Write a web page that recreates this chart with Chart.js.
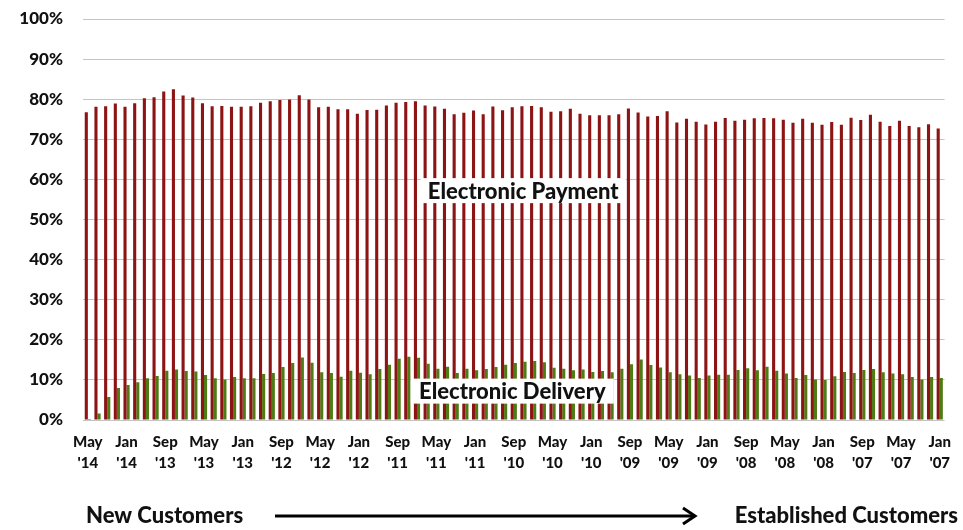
<!DOCTYPE html>
<html>
<head>
<meta charset="utf-8">
<script src="https://cdn.jsdelivr.net/npm/chart.js@4.4.1/dist/chart.umd.min.js"></script>
<style>
  html, body { margin: 0; padding: 0; background: #fff; }
  #wrap { width: 963px; height: 530px; position: relative; }
</style>
</head>
<body>
<div id="wrap"><canvas id="payChart"></canvas></div>
<script>
// tick labels shown every 4th month, newest first
var tickLabels = ["May '14","Jan '14","Sep '13","May '13","Jan '13","Sep '12","May '12","Jan '12",
    "Sep '11","May '11","Jan '11","Sep '10","May '10","Jan '10","Sep '09","May '09","Jan '09",
    "Sep '08","May '08","Jan '08","Sep '07","May '07","Jan '07"];
var monthNames = ["Jan","Feb","Mar","Apr","May","Jun","Jul","Aug","Sep","Oct","Nov","Dec"];

// % of customers paying electronically, May 2014 back to Jan 2007
var paymentPct = [76.75,78.1,78.25,78.9,78.1,79.0,80.25,80.5,81.9,82.5,80.9,80.4,79.0,78.25,78.3,
    78.1,78.1,78.25,79.1,79.5,79.8,79.9,81.0,79.9,78.0,78.1,77.5,77.5,76.4,
    77.3,77.4,78.4,79.1,79.3,79.5,78.4,78.2,77.6,76.25,76.6,77.2,76.25,78.2,77.25,78.0,
    78.25,78.3,78.0,76.9,77.0,77.6,76.4,76.0,76.0,76.0,76.25,77.7,76.7,
    75.7,75.8,77.0,74.2,75.1,74.4,73.7,74.4,75.3,74.6,74.9,75.25,75.3,75.25,74.9,74.1,
    75.1,74.1,73.6,74.3,73.6,75.4,74.8,76.1,74.4,73.3,74.6,73.3,73.0,73.75,72.7];

// % of customers on electronic delivery, same months
var deliveryPct = [0.25,1.6,5.75,8.0,8.7,9.4,10.4,11.0,12.3,12.6,12.2,12.1,11.2,10.4,10.1,
    10.75,10.4,10.4,11.5,11.75,13.2,14.2,15.6,14.25,11.9,11.7,10.8,12.3,
    11.8,11.4,12.7,13.8,15.3,15.8,15.5,14.0,12.8,13.25,11.75,12.8,12.4,12.7,13.2,13.8,
    14.2,14.5,14.7,14.4,13.0,12.75,12.4,12.6,12.0,12.2,11.9,12.75,13.9,15.1,
    13.7,13.1,11.9,11.4,11.1,10.5,11.1,11.3,11.3,12.5,12.9,12.4,13.3,12.3,11.6,10.5,
    11.2,10.1,10.0,10.9,12.0,11.75,12.5,12.7,11.9,11.6,11.4,10.7,10.1,10.7,10.5];

// one category per month, counting back from May 2014
var categories = [];
for (var i = 0; i < paymentPct.length; i++) {
    var m = 4 - i, y = 2014;
    while (m < 0) { m += 12; y--; }
    categories.push(monthNames[m] + " '" + String(y).slice(2));
}

var FONT = "Lato, 'Open Sans', sans-serif";
var red = "#8c1414";
var green = "#4e7b14";

var notesPlugin = {
    id: 'notes',
    afterDatasetsDraw: function(chart) {
        var ctx = chart.ctx;
        var xs = chart.scales.x, ys = chart.scales.y;
        ctx.save();
        // series captions sitting on white boxes over the bars
        function caption(text, idx, val, w, h) {
            var cx = xs.getPixelForValue(idx);
            var cy = ys.getPixelForValue(val);
            ctx.fillStyle = '#fff';
            ctx.fillRect(cx - w / 2, cy - h / 2, w, h);
            ctx.fillStyle = '#111';
            ctx.font = "900 22px " + FONT;
            ctx.textAlign = 'center';
            ctx.textBaseline = 'middle';
            ctx.fillText(text, cx, cy + 1);
        }
        caption('Electronic Payment', 44.97, 57.2, 205, 25);
        caption('Electronic Delivery', 43.85, 7.2, 203, 25);

        // customer tenure arrow along the bottom
        var by = 516;
        ctx.fillStyle = '#111';
        ctx.font = "900 22px " + FONT;
        ctx.textBaseline = 'middle';
        ctx.textAlign = 'left';
        ctx.fillText('New Customers', 86, by);
        ctx.textAlign = 'right';
        ctx.fillText('Established Customers', 958, by);
        ctx.strokeStyle = '#000';
        ctx.lineWidth = 3;
        ctx.beginPath();
        ctx.moveTo(275, by);
        ctx.lineTo(694, by);
        ctx.stroke();
        ctx.beginPath();
        ctx.moveTo(683, by - 8);
        ctx.lineTo(695, by);
        ctx.lineTo(683, by + 8);
        ctx.stroke();
        ctx.restore();
    }
};

var chartPay = new Chart(document.getElementById('payChart'), {
    type: 'bar',
    data: {
        labels: categories,
        datasets: [
            {
                label: 'Electronic Payment',
                data: paymentPct,
                backgroundColor: red,
                categoryPercentage: 0.64,
                barPercentage: 1.0
            },
            {
                label: 'Electronic Delivery',
                data: deliveryPct,
                backgroundColor: green,
                categoryPercentage: 0.64,
                barPercentage: 1.0
            }
        ]
    },
    options: {
        responsive: true,
        maintainAspectRatio: false,
        animation: false,
        layout: { padding: { top: 19, right: 10, bottom: 60, left: 0 } },
        plugins: {
            legend: { display: false },
            tooltip: { enabled: false }
        },
        scales: {
            x: {
                offset: true,
                grid: { display: false, drawTicks: false },
                border: { display: false },
                afterFit: function(scale) { scale.height = 50; },
                ticks: {
                    autoSkip: false,
                    maxRotation: 0,
                    minRotation: 0,
                    padding: 12,
                    color: '#111',
                    font: { family: FONT, size: 15, weight: '900', lineHeight: 1.4 },
                    callback: function(value, index) {
                        if (index % 4 !== 0) return '';
                        return tickLabels[index / 4].split(' ');
                    }
                }
            },
            y: {
                min: 0,
                max: 100,
                // invisible tick marks push the labels left of the plot
                grid: { color: '#c4c4c4', lineWidth: 1, drawTicks: true, tickLength: 20, tickColor: 'rgba(0,0,0,0)' },
                border: { display: false },
                afterFit: function(scale) { scale.width = 83; },
                ticks: {
                    stepSize: 10,
                    padding: 0,
                    color: '#111',
                    font: { family: FONT, size: 17, weight: '900' },
                    callback: function(v) { return v + '%'; }
                }
            }
        }
    },
    plugins: [notesPlugin]
});
</script>
</body>
</html>
